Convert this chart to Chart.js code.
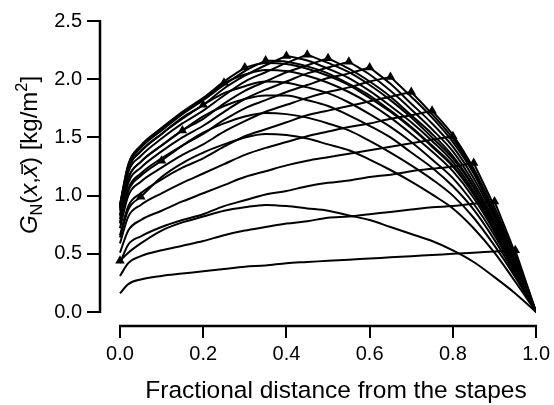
<!DOCTYPE html>
<html>
<head>
<meta charset="utf-8">
<script src="https://cdn.jsdelivr.net/npm/chart.js@4.4.0/dist/chart.umd.min.js"></script>
<style>
  html, body { margin: 0; padding: 0; background: #fff; }
</style>
</head>
<body>
<canvas id="myChart" width="554" height="405"></canvas>
<script>
// sample positions along the cochlea (fraction of length from the stapes)
const gridX = [0, 0.02, 0.05, 0.1, 0.15, 0.2, 0.25, 0.3, 0.35, 0.4, 0.45, 0.5, 0.55, 0.6, 0.65, 0.7, 0.75, 0.8, 0.85, 0.9, 0.95, 1];

// source positions x-bar (triangles)
const sourceX = [0, 0.05, 0.1, 0.15, 0.2, 0.25, 0.3, 0.35, 0.4, 0.45, 0.5, 0.55, 0.6, 0.65, 0.7, 0.75, 0.8, 0.85, 0.9, 0.95];

// G_N(x, xbar), one array per source position
const g00 = [0.44, 0.51, 0.59, 0.70, 0.77, 0.82, 0.87, 0.90, 0.92, 0.91, 0.89, 0.87, 0.83, 0.79, 0.73, 0.67, 0.61, 0.53, 0.43, 0.30, 0.16, 0];
const g05 = [0.64, 0.88, 0.99, 1.16, 1.28, 1.37, 1.44, 1.50, 1.53, 1.52, 1.49, 1.44, 1.39, 1.31, 1.22, 1.12, 1.01, 0.89, 0.72, 0.51, 0.26, 0];
const g10 = [0.76, 1.04, 1.17, 1.30, 1.43, 1.54, 1.62, 1.68, 1.71, 1.70, 1.67, 1.62, 1.56, 1.47, 1.37, 1.26, 1.14, 1.00, 0.81, 0.57, 0.30, 0];
const g15 = [0.83, 1.15, 1.29, 1.43, 1.56, 1.68, 1.77, 1.83, 1.86, 1.86, 1.82, 1.77, 1.69, 1.60, 1.50, 1.37, 1.24, 1.08, 0.88, 0.62, 0.32, 0];
const g20 = [0.89, 1.23, 1.38, 1.53, 1.66, 1.78, 1.88, 1.94, 1.98, 1.97, 1.93, 1.88, 1.80, 1.70, 1.59, 1.46, 1.31, 1.15, 0.93, 0.66, 0.34, 0];
const g25 = [0.92, 1.26, 1.42, 1.58, 1.71, 1.83, 1.97, 2.04, 2.08, 2.07, 2.03, 1.97, 1.89, 1.79, 1.67, 1.53, 1.38, 1.21, 0.98, 0.69, 0.36, 0];
const g30 = [0.92, 1.27, 1.43, 1.58, 1.72, 1.84, 1.98, 2.10, 2.14, 2.13, 2.09, 2.03, 1.95, 1.84, 1.72, 1.58, 1.42, 1.25, 1.01, 0.71, 0.37, 0];
const g35 = [0.91, 1.25, 1.41, 1.56, 1.70, 1.82, 1.95, 2.07, 2.16, 2.15, 2.11, 2.05, 1.96, 1.86, 1.73, 1.59, 1.43, 1.26, 1.02, 0.72, 0.37, 0];
const g40 = [0.89, 1.23, 1.38, 1.53, 1.67, 1.78, 1.92, 2.03, 2.12, 2.20, 2.16, 2.09, 2.01, 1.90, 1.77, 1.63, 1.47, 1.29, 1.04, 0.73, 0.38, 0];
const g45 = [0.87, 1.20, 1.34, 1.49, 1.62, 1.73, 1.86, 1.98, 2.06, 2.14, 2.21, 2.14, 2.06, 1.95, 1.82, 1.67, 1.50, 1.32, 1.07, 0.75, 0.39, 0];
const g50 = [0.83, 1.15, 1.29, 1.43, 1.56, 1.66, 1.79, 1.90, 1.98, 2.06, 2.12, 2.18, 2.09, 1.98, 1.85, 1.69, 1.53, 1.34, 1.08, 0.76, 0.40, 0];
const g55 = [0.80, 1.11, 1.24, 1.38, 1.50, 1.60, 1.72, 1.83, 1.91, 1.98, 2.05, 2.10, 2.15, 2.04, 1.90, 1.74, 1.57, 1.38, 1.11, 0.78, 0.41, 0];
const g60 = [0.77, 1.06, 1.19, 1.32, 1.43, 1.53, 1.65, 1.75, 1.82, 1.89, 1.95, 2.01, 2.05, 2.10, 1.96, 1.79, 1.62, 1.42, 1.15, 0.81, 0.42, 0];
const g65 = [0.72, 1.00, 1.12, 1.24, 1.35, 1.44, 1.55, 1.64, 1.72, 1.78, 1.84, 1.89, 1.93, 1.98, 2.02, 1.85, 1.67, 1.46, 1.19, 0.83, 0.44, 0];
const g70 = [0.66, 0.91, 1.02, 1.14, 1.24, 1.32, 1.42, 1.51, 1.57, 1.63, 1.69, 1.73, 1.77, 1.81, 1.85, 1.89, 1.70, 1.49, 1.21, 0.85, 0.44, 0];
const g75 = [0.59, 0.82, 0.92, 1.02, 1.11, 1.19, 1.27, 1.35, 1.41, 1.46, 1.51, 1.55, 1.59, 1.62, 1.66, 1.69, 1.73, 1.52, 1.23, 0.86, 0.45, 0];
const g80 = [0.51, 0.70, 0.79, 0.87, 0.95, 1.02, 1.09, 1.16, 1.21, 1.26, 1.30, 1.33, 1.36, 1.39, 1.42, 1.45, 1.48, 1.51, 1.22, 0.86, 0.45, 0];
const g85 = [0.42, 0.58, 0.65, 0.73, 0.79, 0.84, 0.91, 0.96, 1.01, 1.04, 1.08, 1.11, 1.13, 1.16, 1.18, 1.21, 1.23, 1.25, 1.28, 0.90, 0.47, 0];
const g90 = [0.31, 0.42, 0.48, 0.53, 0.57, 0.61, 0.66, 0.70, 0.73, 0.76, 0.78, 0.81, 0.82, 0.84, 0.86, 0.88, 0.90, 0.91, 0.93, 0.95, 0.50, 0];
const g95 = [0.16, 0.24, 0.28, 0.31, 0.33, 0.35, 0.37, 0.39, 0.40, 0.42, 0.43, 0.44, 0.45, 0.46, 0.47, 0.48, 0.49, 0.50, 0.51, 0.52, 0.53, 0];

const curves = [g00, g05, g10, g15, g20, g25, g30, g35, g40, g45, g50, g55, g60, g65, g70, g75, g80, g85, g90, g95];

const xTicks = [0, 0.2, 0.4, 0.6, 0.8, 1.0];
const yTicks = [0, 0.5, 1.0, 1.5, 2.0, 2.5];

const fontFam = "'Liberation Sans', Arial, Helvetica, sans-serif";
Chart.defaults.font.family = fontFam;
Chart.defaults.color = '#000';

function lineSet(pts) {
  return {
    data: pts,
    borderColor: '#000',
    borderWidth: 2,
    pointRadius: 0,
    fill: false,
    cubicInterpolationMode: 'monotone'
  };
}

// each curve has a kink at x = xbar, so draw the two branches separately
const datasets = [];
curves.forEach((g, k) => {
  const kink = gridX.indexOf(sourceX[k]);
  const pts = gridX.map((x, i) => ({ x: x, y: g[i] }));
  if (kink > 0) datasets.push(lineSet(pts.slice(0, kink + 1)));
  datasets.push(lineSet(pts.slice(kink)));
});

datasets.push({
  data: sourceX.map((x, k) => ({ x: x, y: curves[k][gridX.indexOf(x)] })),
  showLine: false,
  pointStyle: 'triangle',
  pointRadius: 5.5,
  pointBackgroundColor: '#000',
  pointBorderColor: '#000',
  pointBorderWidth: 0
});

// axis lines only span the tick range, like the original
const detachedAxes = {
  id: 'detachedAxes',
  afterDraw(chart) {
    const { ctx, chartArea, scales: { x, y } } = chart;
    ctx.save();
    ctx.strokeStyle = '#000';
    ctx.lineWidth = 2.5;
    ctx.beginPath();
    ctx.moveTo(chartArea.left, y.getPixelForValue(yTicks[0]) + 1);
    ctx.lineTo(chartArea.left, y.getPixelForValue(yTicks[yTicks.length - 1]) - 1);
    ctx.moveTo(x.getPixelForValue(xTicks[0]) - 1, chartArea.bottom);
    ctx.lineTo(x.getPixelForValue(xTicks[xTicks.length - 1]) + 1, chartArea.bottom);
    ctx.stroke();

    // x title
    ctx.fillStyle = '#000';
    ctx.font = '24.5px ' + fontFam;
    ctx.textAlign = 'center';
    ctx.textBaseline = 'alphabetic';
    ctx.fillText('Fractional distance from the stapes', 336, 398);

    // y title: G_N(x, x̄) [kg/m²]
    const fs = 24;
    const parts = [
      { t: 'G', it: true },
      { t: 'N', s: 0.68, dy: 0.22 },
      { t: '(' },
      { t: 'x', it: true },
      { t: ',' },
      { t: 'x', it: true, bar: true },
      { t: ') [kg/m' },
      { t: '2', s: 0.68, dy: -0.42 },
      { t: ']' }
    ];
    const fontOf = p => (p.it ? 'italic ' : '') + (fs * (p.s || 1)) + 'px ' + fontFam;
    let total = 0;
    parts.forEach(p => { ctx.font = fontOf(p); p.w = ctx.measureText(p.t).width; total += p.w; });
    ctx.translate(37, 155);
    ctx.rotate(-Math.PI / 2);
    ctx.textAlign = 'left';
    let cx = -total / 2;
    parts.forEach(p => {
      ctx.font = fontOf(p);
      const by = (p.dy || 0) * fs;
      ctx.fillText(p.t, cx, by);
      if (p.bar) {
        ctx.lineWidth = 1.5;
        ctx.beginPath();
        ctx.moveTo(cx + 3, -fs * 0.62);
        ctx.lineTo(cx + p.w + 1, -fs * 0.62);
        ctx.stroke();
      }
      cx += p.w;
    });
    ctx.restore();
  }
};

new Chart(document.getElementById('myChart'), {
  type: 'line',
  data: { datasets: datasets },
  options: {
    responsive: false,
    animation: false,
    events: [],
    layout: { padding: { left: 0, top: 21, right: 16, bottom: 0 } },
    plugins: { legend: { display: false }, tooltip: { enabled: false } },
    scales: {
      x: {
        type: 'linear',
        min: -0.048,
        max: 1.0,
        afterFit: s => { s.height = 79; },
        afterBuildTicks: s => { s.ticks = xTicks.map(v => ({ value: v })); },
        border: { display: false },
        grid: { drawOnChartArea: false, drawTicks: true, tickLength: 12, color: '#000', lineWidth: 2 },
        ticks: { font: { size: 20 }, padding: 4, maxRotation: 0, callback: v => v.toFixed(1) }
      },
      y: {
        type: 'linear',
        min: -0.12,
        max: 2.5,
        afterFit: s => { s.width = 100; },
        afterBuildTicks: s => { s.ticks = yTicks.map(v => ({ value: v })); },
        border: { display: false },
        grid: { drawOnChartArea: false, drawTicks: true, tickLength: 13, color: '#000', lineWidth: 2 },
        ticks: { font: { size: 20 }, padding: 5, callback: v => v.toFixed(1) }
      }
    }
  },
  plugins: [detachedAxes]
});
</script>
</body>
</html>
